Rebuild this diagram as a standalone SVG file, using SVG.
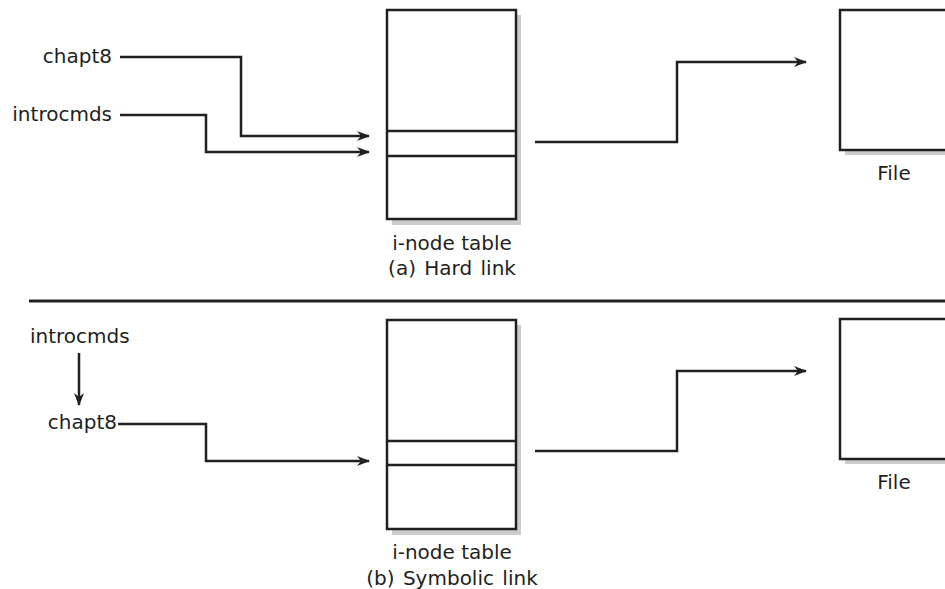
<svg xmlns="http://www.w3.org/2000/svg" width="945" height="589" viewBox="0 0 945 589">
<defs>
<marker id="ah" viewBox="0 0 13 10" refX="12" refY="5" markerWidth="13" markerHeight="10" markerUnits="userSpaceOnUse" orient="auto">
<path d="M0,0 L13,5 L0,10 L4,5 Z" fill="#231f20"/>
</marker>
</defs>
<style>
text{font-family:"DejaVu Sans","Liberation Sans",sans-serif;font-size:20px;fill:#231f20}
.cap{word-spacing:2px}
.box{fill:#fff;stroke:#231f20;stroke-width:2.5}
.sh{fill:#cccccc}
.div{stroke:#231f20;stroke-width:2.5}
.c{fill:none;stroke:#231f20;stroke-width:2.5;marker-end:url(#ah)}
</style>
<rect width="945" height="589" fill="#fff"/>
<line x1="29" y1="301" x2="945" y2="301" stroke="#231f20" stroke-width="3"/>

<g id="inode-a">
<rect class="sh" x="392" y="15" width="129" height="210"/>
<rect class="box" x="387" y="10" width="129" height="209"/>
<line class="div" x1="387" y1="131" x2="516" y2="131"/>
<line class="div" x1="387" y1="156" x2="516" y2="156"/>
<text x="452" y="250" text-anchor="middle">i-node table</text>
<text class="cap" x="452" y="275" text-anchor="middle">(a) Hard link</text>
</g>
<g id="file-a">
<rect class="sh" x="845" y="15" width="110" height="140"/>
<rect class="box" x="840" y="10" width="120" height="140"/>
<text x="894" y="180" text-anchor="middle">File</text>
</g>
<g id="chapt8-a"><text x="112" y="63" text-anchor="end">chapt8</text></g>
<g id="introcmds-a"><text x="112" y="121" text-anchor="end">introcmds</text></g>

<g id="inode-b">
<rect class="sh" x="392" y="325" width="129" height="210"/>
<rect class="box" x="387" y="320" width="129" height="209"/>
<line class="div" x1="387" y1="441" x2="516" y2="441"/>
<line class="div" x1="387" y1="465" x2="516" y2="465"/>
<text x="452" y="559" text-anchor="middle">i-node table</text>
<text class="cap" x="452" y="585" text-anchor="middle">(b) Symbolic link</text>
</g>
<g id="file-b">
<rect class="sh" x="845" y="324" width="110" height="140"/>
<rect class="box" x="840" y="319" width="120" height="140"/>
<text x="894" y="489" text-anchor="middle">File</text>
</g>
<g id="introcmds-b"><text x="30" y="343">introcmds</text></g>
<g id="chapt8-b"><text x="117" y="429" text-anchor="end">chapt8</text></g>

<g id="connectors">
<polyline class="c" points="120,57 241,57 241,136 369,136"/>
<polyline class="c" points="120,115 206,115 206,152 369,152"/>
<polyline class="c" points="535,142 677,142 677,62 806,62"/>
<line class="c" x1="79" y1="353" x2="79" y2="405"/>
<polyline class="c" points="118,424 206,424 206,461 369,461"/>
<polyline class="c" points="535,451 677,451 677,371 806,371"/>
</g>
</svg>
